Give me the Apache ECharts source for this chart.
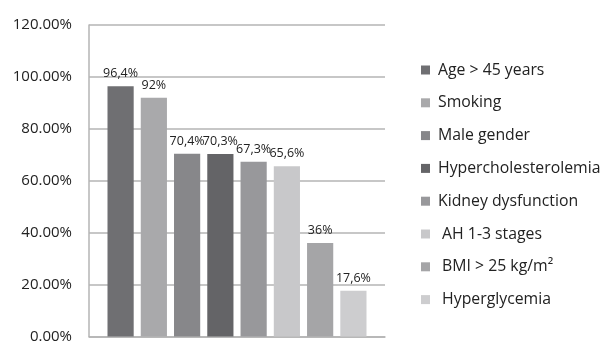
<!DOCTYPE html>
<html>
<head>
<meta charset="utf-8">
<script src="https://cdn.jsdelivr.net/npm/echarts@6/dist/echarts.min.js"></script>
<style>
  html, body { margin: 0; padding: 0; background: #fff; }
  #chart { width: 604px; height: 344px; }
</style>
</head>
<body>
<div id="chart"></div>
<script>
// Risk factors and their prevalence (%)
const factors = ['Age > 45 years', 'Smoking', 'Male gender', 'Hypercholesterolemia',
  'Kidney dysfunction', ' AH 1-3 stages', ' BMI > 25 kg/m\u00B2', ' Hyperglycemia'];
const prevalence = [96.4, 92, 70.4, 70.3, 67.3, 65.6, 36, 17.6];
const shades = ['#6f6f72', '#a9a9ab', '#87878a', '#646467', '#98989b', '#c8c8ca', '#a5a5a7', '#cdcdcf'];
const yTicks = [0, 20, 40, 60, 80, 100, 120];

const FONT = '"Open Sans"';

const series = factors.map((name, i) => ({
  name: name,
  type: 'bar',
  data: [prevalence[i]],
  barGap: '27%',
  barCategoryGap: '12.5%',
  itemStyle: { color: shades[i] },
  label: {
    show: true,
    position: 'top',
    distance: 6,
    fontFamily: FONT,
    fontSize: 12.5,
    color: '#222',
    formatter: p => String(p.value).replace('.', ',') + '%'
  }
}));

const chart = echarts.init(document.getElementById('chart'));
chart.setOption({
  animation: false,
  textStyle: { fontFamily: FONT },
  grid: { left: 89, right: 219, top: 25, bottom: 3, containLabel: false },
  xAxis: {
    type: 'category',
    data: [''],
    axisTick: { show: false },
    axisLabel: { show: false },
    axisLine: { lineStyle: { color: '#b4b4b4', width: 1.5 } }
  },
  yAxis: {
    type: 'value',
    min: yTicks[0],
    max: yTicks[yTicks.length - 1],
    interval: 20,
    axisLine: { show: true, lineStyle: { color: '#b4b4b4', width: 1.5 } },
    axisTick: { show: false },
    splitLine: { lineStyle: { color: '#b4b4b4', width: 1.5 } },
    axisLabel: {
      margin: 17,
      fontFamily: FONT,
      fontSize: 15,
      color: '#222',
      formatter: v => v.toFixed(2) + '%'
    }
  },
  legend: {
    orient: 'vertical',
    left: 416,
    top: 57,
    itemWidth: 9,
    itemHeight: 9,
    itemGap: 16.8,
    icon: 'rect',
    data: factors,
    textStyle: {
      fontFamily: FONT,
      fontSize: 15.8,
      lineHeight: 16,
      color: '#222',
      padding: [0, 0, 0, 3]
    }
  },
  series: series
});
</script>
</body>
</html>
